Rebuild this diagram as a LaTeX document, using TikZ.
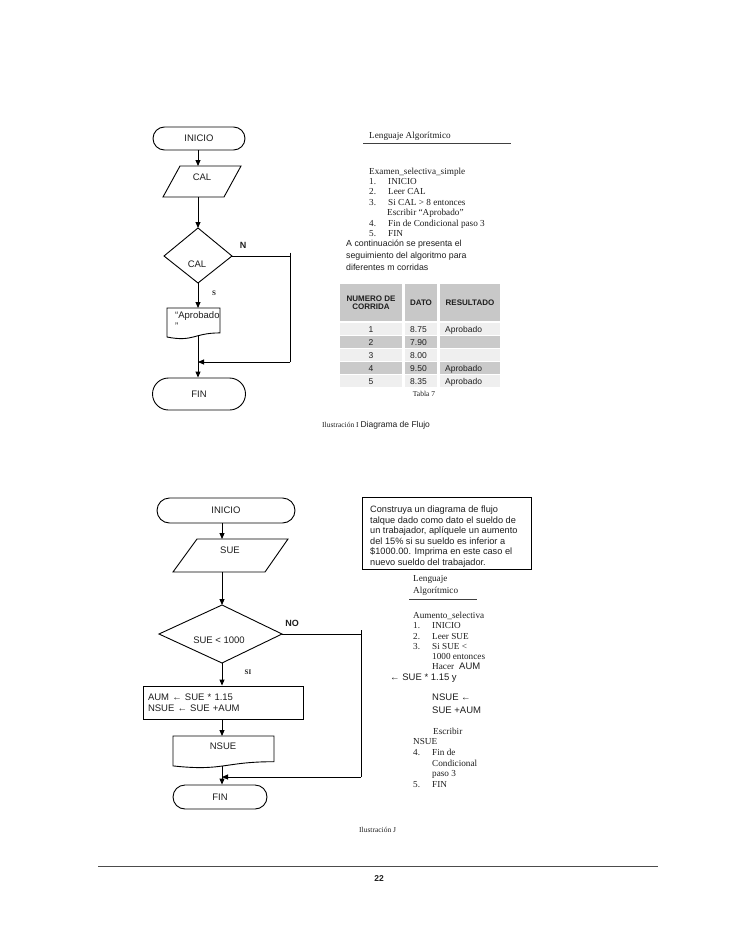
\documentclass[tikz,border=0pt]{standalone}
\usepackage{fontspec}
\setmainfont{Liberation Serif}
\setsansfont{Liberation Sans}
\usetikzlibrary{arrows.meta}
\definecolor{hdr}{HTML}{C8C8C8}
\definecolor{rowl}{HTML}{EFEFEF}
\definecolor{rowd}{HTML}{CACACA}
\definecolor{ink}{HTML}{1E1E1E}
\begin{document}
\begin{tikzpicture}[x=1pt,y=-1pt,
  every node/.style={inner sep=0pt, text=ink},
  shp/.style={draw=black, line width=0.9pt},
  conn/.style={draw=black, line width=0.9pt},
  arr/.style={conn, -{Triangle[length=6pt,width=5pt]}},
  lbl/.style={font=\sffamily\fontsize{9.5}{11}\selectfont},
  yesno/.style={font=\sffamily\bfseries\fontsize{9}{10}\selectfont},
  yesnoser/.style={font=\rmfamily\bfseries\fontsize{7}{8}\selectfont},
  alg/.style={font=\rmfamily\fontsize{9.2}{10}\selectfont, anchor=base west},
  algs/.style={font=\sffamily\fontsize{9.5}{11}\selectfont, anchor=base west},
  sns/.style={font=\sffamily\fontsize{8.8}{10}\selectfont, anchor=base west},
  box/.style={font=\sffamily\fontsize{9.2}{10}\selectfont, anchor=base west},
  tblh/.style={font=\sffamily\bfseries\fontsize{8}{9}\selectfont, align=center},
  tbl/.style={font=\sffamily\fontsize{8.5}{10}\selectfont, anchor=base},
  tblw/.style={font=\sffamily\fontsize{8.5}{10}\selectfont, anchor=base west},
]
\fill[white] (0,0) rectangle (728,942);
\useasboundingbox (0,0) rectangle (728,942);

%%% ---------------- Top flowchart ----------------
\node[shp, lbl, rounded corners=11.5pt, minimum width=92pt, minimum height=23pt] (inicio1) at (199,138.5) {INICIO};

% CAL input parallelogram
\draw[shp] (180,166) -- (241,166) -- (224,197) -- (163,197) -- cycle;
\coordinate (cal1n) at (198,166);
\coordinate (cal1s) at (198,197);
\node[lbl] (cal1) at (202,177) {CAL};

% decision
\coordinate (d1n) at (198,228);
\coordinate (d1e) at (232,256);
\coordinate (d1s) at (198,283);
\coordinate (d1w) at (164,256);
\draw[shp] (d1n) -- (d1e) -- (d1s) -- (d1w) -- cycle;
\node[lbl] (d1) at (197,264) {CAL};

% document
\draw[shp] (167,308) -- (220,308) -- (220,332.9) .. controls (193.5,332.9) and (193.5,342.3) .. (167,337) -- cycle;
\coordinate (doc1n) at (198,308);
\coordinate (doc1s) at (198,335.3);
\node[lbl, anchor=west] (apr1) at (175,316.5) {“Aprobado};
\node[lbl, anchor=west] (apr2) at (175,326) {”};

\node[shp, lbl, rounded corners=16pt, minimum width=93pt, minimum height=32pt] (fin1) at (199,394) {FIN};

% connectors
\draw[arr] (cal1n |- inicio1.south) -- (cal1n);
\draw[arr] (cal1s) -- (d1n);
\draw[arr] (d1s) -- (doc1n);
\draw[arr] (doc1s) -- (doc1s |- fin1.north);
\coordinate (r1a) at (290,256);
\coordinate (r1t) at (290,252.5);
\coordinate (r1b) at (290,362);
\coordinate (m1) at (198,362);
\draw[conn] (d1e) -- (r1a);
\draw[conn] (r1t) -- (r1b);
\draw[arr] (r1b) -- (m1);
\node[yesno] (lN) at (243,245) {N};
\node[yesnoser] (lS) at (214,293) {S};

%%% ---------------- Top right text ----------------
\node[alg] (la1) at (369,138) {Lenguaje Algorítmico};
\draw[line width=0.8pt, black!75] (363,143) -- (511,143);
\node[alg] (ex1) at (369,174) {Examen\_selectiva\_simple};
\node[alg] (a1n) at (369,184) {1.};  \node[alg] (a1t) at (388,184) {INICIO};
\node[alg] (a2n) at (369,194.5) {2.};  \node[alg] (a2t) at (388,194.5) {Leer CAL};
\node[alg] (a3n) at (369,205) {3.};  \node[alg] (a3t) at (388,205) {Si CAL > 8 entonces};
\node[alg] (a3b) at (387,215.5) {Escribir “Aprobado”};
\node[alg] (a4n) at (369,226) {4.};  \node[alg] (a4t) at (388,226) {Fin de Condicional paso 3};
\node[alg] (a5n) at (369,236.5) {5.};  \node[alg] (a5t) at (388,236.5) {FIN};
\node[sns] (c1) at (346,246.5) {A continuación se presenta el};
\node[sns] (c2) at (346,258.5) {seguimiento del algoritmo para};
\node[sns] (c3) at (346,270.5) {diferentes m corridas};

% table
\fill[hdr] (340,284) rectangle (402,321);
\fill[hdr] (405,284) rectangle (437,321);
\fill[hdr] (440,284) rectangle (500,321);
\node[tblh] (h1) at (371,302.5) {NUMERO DE\\[-1pt]CORRIDA};
\node[tblh] (h2) at (421,302.5) {DATO};
\node[tblh] (h3) at (470,302.5) {RESULTADO};
\foreach \y/\c in {323/rowl,336/rowd,349/rowl,362/rowd,375/rowl}{
  \fill[\c] (340,\y) rectangle (402,\y+12);
  \fill[\c] (405,\y) rectangle (437,\y+12);
  \fill[\c] (440,\y) rectangle (500,\y+12);
}
\node[tbl] (r1a) at (371,332.5) {1};
\node[tblw] (r1b) at (410,332.5) {8.75};
\node[tblw] (r1c) at (445,332.5) {Aprobado};
\node[tbl] (r2a) at (371,345.5) {2};
\node[tblw] (r2b) at (410,345.5) {7.90};
\node[tbl] (r3a) at (371,358.5) {3};
\node[tblw] (r3b) at (410,358.5) {8.00};
\node[tbl] (r4a) at (371,371.5) {4};
\node[tblw] (r4b) at (410,371.5) {9.50};
\node[tblw] (r4c) at (445,371.5) {Aprobado};
\node[tbl] (r5a) at (371,384.5) {5};
\node[tblw] (r5b) at (410,384.5) {8.35};
\node[tblw] (r5c) at (445,384.5) {Aprobado};
\node[font=\rmfamily\fontsize{7.5}{9}\selectfont] (tab7) at (424,393.5) {Tabla 7};
\node[anchor=base west] (il1) at (322,427) {\rmfamily\fontsize{7.5}{9}\selectfont Ilustración I \sffamily\fontsize{8.5}{10}\selectfont Diagrama de Flujo};

%%% ---------------- Bottom flowchart ----------------
\node[shp, lbl, rounded corners=12.5pt, minimum width=138pt, minimum height=25pt] (inicio2) at (226,510.5) {INICIO};

\draw[shp] (197,539) -- (288,539) -- (265,572) -- (173,572) -- cycle;
\coordinate (sue2n) at (222,539);
\coordinate (sue2s) at (222,572);
\node[lbl] (sue2) at (230,550) {SUE};

\coordinate (d2n) at (222,605);
\coordinate (d2e) at (282,634);
\coordinate (d2s) at (222,663);
\coordinate (d2w) at (159,634);
\draw[shp] (d2n) -- (d2e) -- (d2s) -- (d2w) -- cycle;
\node[lbl] (d2) at (219,640) {SUE < 1000};

\node[shp, lbl, align=left, text width=150pt, minimum width=160pt, minimum height=33pt, inner xsep=5pt] (proc2) at (223,702.5) {AUM ← SUE * 1.15\\NSUE ← SUE +AUM};

\draw[shp] (173,736) -- (274,736) -- (274,761.7) .. controls (223.5,761.7) and (223.5,771.4) .. (173,765.9) -- cycle;
\coordinate (doc2n) at (222,736);
\coordinate (doc2s) at (222,765.9);
\node[lbl] (nsue2) at (223,746) {NSUE};

\node[shp, lbl, rounded corners=12pt, minimum width=94pt, minimum height=24pt] (fin2) at (220,797) {FIN};

\draw[arr] (sue2n |- inicio2.south) -- (sue2n);
\draw[arr] (sue2s) -- (d2n);
\draw[arr] (d2s) -- (d2s |- proc2.north);
\draw[arr] (doc2n |- proc2.south) -- (doc2n);
\draw[arr] (doc2s) -- (doc2s |- fin2.north);
\coordinate (r2a) at (361,634);
\coordinate (r2t) at (361,630);
\coordinate (r2b) at (361,777);
\coordinate (m2) at (222,777);
\draw[conn] (d2e) -- (r2a);
\draw[conn] (r2t) -- (r2b);
\draw[arr] (r2b) -- (m2);
\node[yesno] (lNO) at (292,623) {NO};
\node[yesnoser] (lSI) at (248,672) {SI};

%%% ---------------- Bottom right text ----------------
\draw[line width=1pt] (362,497) rectangle (531,569);
\node[box] (b1) at (370,512.5) {Construya un diagrama de flujo};
\node[box] (b2) at (370,523) {talque dado como dato el sueldo de};
\node[box] (b3) at (370,533.5) {un trabajador, aplíquele un aumento};
\node[box] (b4) at (370,544) {del 15\% si su sueldo es inferior a};
\node[box] (b5) at (370,554.5) {\$1000.00. Imprima en este caso el};
\node[box] (b6) at (370,565) {nuevo sueldo del trabajador.};

\node[alg] (lb1) at (413,581) {Lenguaje};
\node[alg] (lb2) at (413,593) {Algorítmico};
\draw[line width=0.8pt, black!75] (409,599) -- (477,599);
\node[alg] (ab0) at (413,618) {Aumento\_selectiva};
\node[alg] (ab1n) at (413,628.5) {1.}; \node[alg] (ab1t) at (432,628.5) {INICIO};
\node[alg] (ab2n) at (413,639) {2.}; \node[alg] (ab2t) at (432,639) {Leer SUE};
\node[alg] (ab3n) at (413,649) {3.}; \node[alg] (ab3t) at (432,649) {Si SUE <};
\node[alg] (ab3b) at (432,659) {1000 entonces};
\node[alg] (ab3c) at (432,669.5) {Hacer\hspace{5pt}\sffamily\fontsize{9.5}{11}\selectfont AUM};
\node[algs] (ab3d) at (390,680.5) {← SUE * 1.15 y};
\node[algs] (ab3e) at (432,700.5) {NSUE ←};
\node[algs] (ab3f) at (432,713.5) {SUE +AUM};
\node[alg] (ab3g) at (433,734) {Escribir};
\node[alg] (ab3h) at (413,744.5) {NSUE};
\node[alg] (ab4n) at (413,755) {4.}; \node[alg] (ab4t) at (432,755) {Fin de};
\node[alg] (ab4b) at (432,766) {Condicional};
\node[alg] (ab4c) at (432,776.5) {paso 3};
\node[alg] (ab5n) at (413,787) {5.}; \node[alg] (ab5t) at (432,787) {FIN};
\node[font=\rmfamily\fontsize{7.5}{9}\selectfont, anchor=base west] (il2) at (359,832) {Ilustración J};

%%% footer
\draw[line width=1pt, black!70] (98,866) -- (658,866);
\node[font=\sffamily\bfseries\fontsize{8.5}{10}\selectfont] (pg) at (379,879) {22};
\end{tikzpicture}
\end{document}
